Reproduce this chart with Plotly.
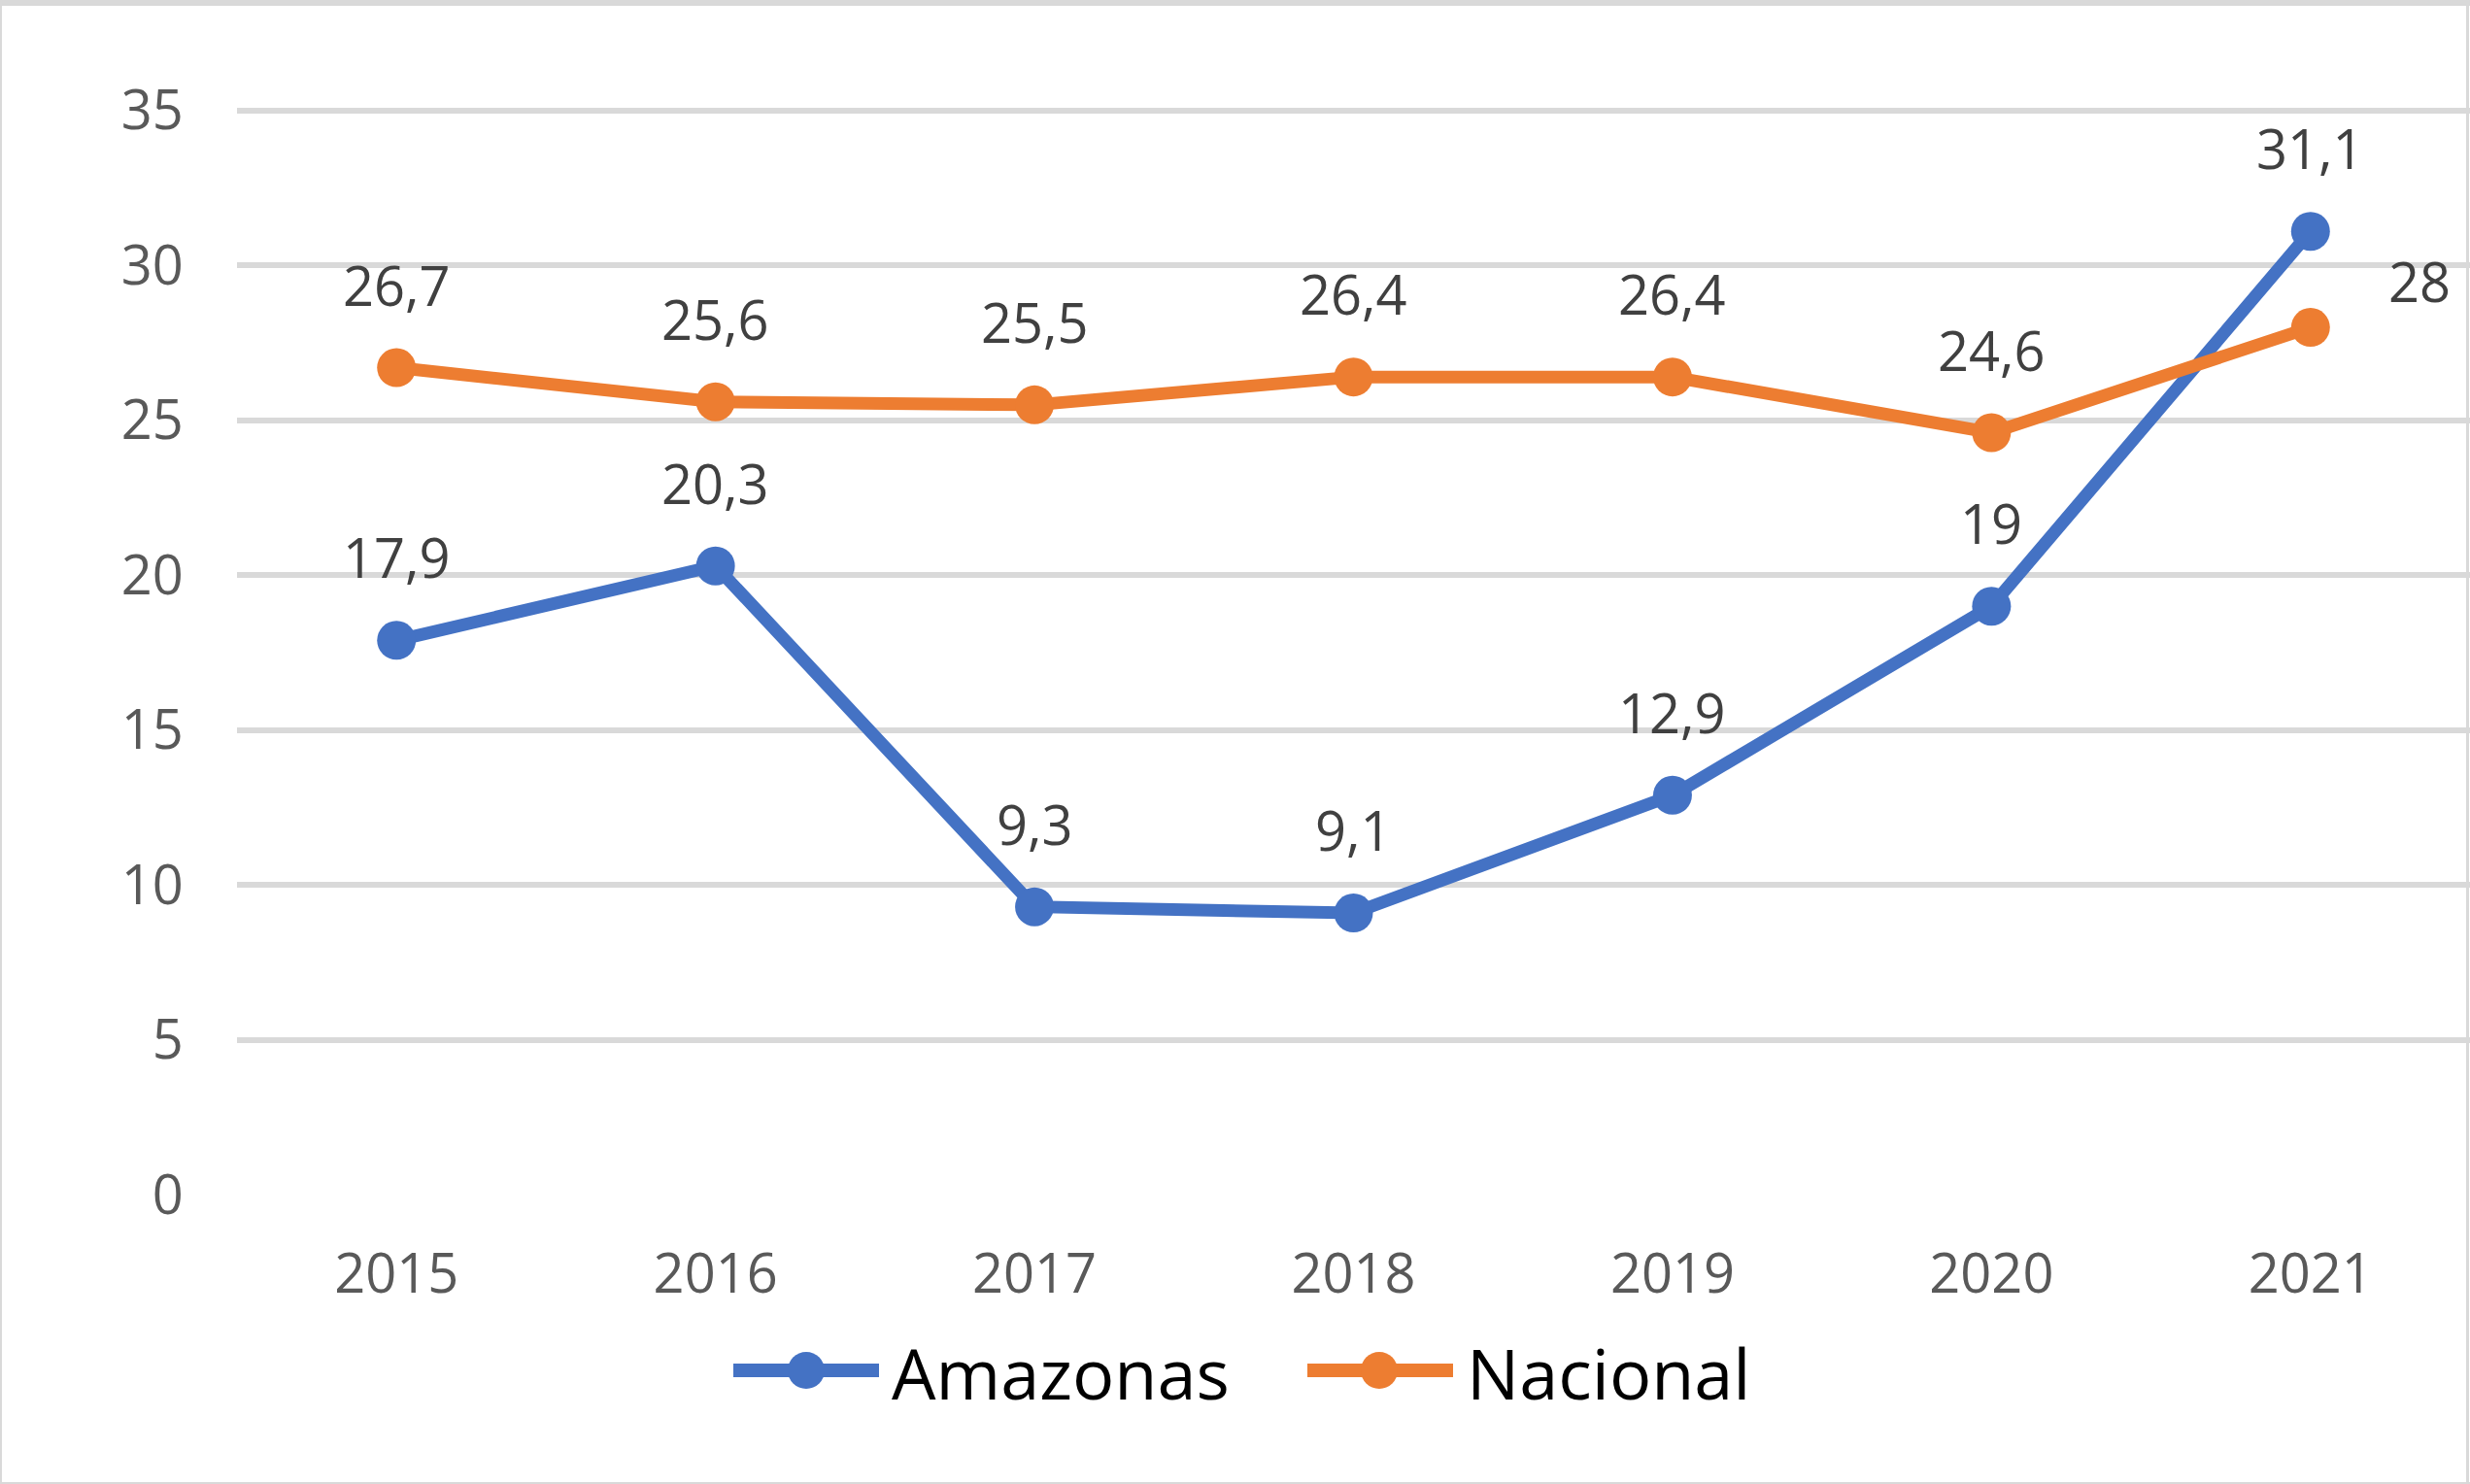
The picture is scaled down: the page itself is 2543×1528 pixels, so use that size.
import plotly.graph_objects as go

years = ["2015", "2016", "2017", "2018", "2019", "2020", "2021"]
amazonas = [17.9, 20.3, 9.3, 9.1, 12.9, 19.0, 31.1]
nacional = [26.7, 25.6, 25.5, 26.4, 26.4, 24.6, 28.0]
y_ticks = [0, 5, 10, 15, 20, 25, 30, 35]
series_names = ["Amazonas", "Nacional"]

BLUE = "#4472C4"
ORANGE = "#ED7D31"
FONT = "Open Sans"
GRID = "#D9D9D9"

W, H = 2543, 1528
L, R, T, B = 244, 0, 109, 297
PW, PH = W - L - R, H - T - B


def px_x(px):
    return (px - L) / PW


def px_y(py):
    return (H - B - py) / PH


def fmt(v):
    s = ("%.1f" % v).replace(".", ",")
    if s.endswith(",0"):
        s = s[:-2]
    return s


fig = go.Figure()
for name, vals, col in ((series_names[0], amazonas, BLUE), (series_names[1], nacional, ORANGE)):
    fig.add_trace(go.Scatter(
        x=years, y=vals, name=name, mode="lines+markers",
        line=dict(color=col, width=13), marker=dict(color=col, size=40),
        showlegend=False,
    ))

# data labels (category index used as x position)
for si, vals in enumerate((amazonas, nacional)):
    for i, v in enumerate(vals):
        xs, ys = 0, 86
        if si == 1 and i == len(years) - 1:
            xs, ys = 112, 48
        fig.add_annotation(
            x=i, y=v, xref="x", yref="y", text=fmt(v), showarrow=False,
            xshift=xs, yshift=ys, xanchor="center", yanchor="middle",
            font=dict(family=FONT, size=56, color="#404040"),
        )

# legend (drawn manually to match the long line symbols)
legend_items = [
    (series_names[0], BLUE, 755, 905, 830, 916),
    (series_names[1], ORANGE, 1346, 1496, 1420, 1508),
]
LEG_Y = 1411
for name, col, lx0, lx1, mx, tx in legend_items:
    fig.add_shape(type="line", xref="paper", yref="paper",
                  x0=px_x(lx0), x1=px_x(lx1), y0=px_y(LEG_Y), y1=px_y(LEG_Y),
                  line=dict(color=col, width=14))
    fig.add_shape(type="circle", xref="paper", yref="paper",
                  x0=px_x(mx - 19), x1=px_x(mx + 19), y0=px_y(LEG_Y + 19), y1=px_y(LEG_Y - 19),
                  fillcolor=col, line=dict(width=0))
    fig.add_annotation(x=px_x(tx), y=px_y(LEG_Y + 2), xref="paper", yref="paper",
                       text=name, showarrow=False, xanchor="left", yanchor="middle",
                       font=dict(family=FONT, size=72, color="#000000"))

# outer light grey border
for x0, x1, y0, y1 in ((0, W, 0, 6), (0, 2, 0, H), (2539, 2542, 0, H), (0, W, 1526, H)):
    fig.add_shape(type="rect", xref="paper", yref="paper",
                  x0=px_x(x0), x1=px_x(x1), y0=px_y(y1), y1=px_y(y0),
                  fillcolor=GRID, line=dict(width=0), layer="above")

fig.update_layout(
    width=W, height=H,
    margin=dict(l=L, r=R, t=T, b=B, pad=0),
    paper_bgcolor="white", plot_bgcolor="white",
    showlegend=False,
    xaxis=dict(
        type="category", range=[-0.5, 6.5], showgrid=False, zeroline=False,
        showline=False, ticks="outside", ticklen=32, tickcolor="rgba(0,0,0,0)",
        tickfont=dict(family=FONT, size=56, color="#595959"),
    ),
    yaxis=dict(
        range=[-0.02, 35.15], tickvals=y_ticks, showgrid=True, gridcolor=GRID, gridwidth=6,
        zeroline=False, showline=False, ticks="outside", ticklen=43, tickcolor="rgba(0,0,0,0)",
        tickfont=dict(family=FONT, size=56, color="#595959"),
    ),
)

fig.write_html(
    "out.html",
    config={"displayModeBar": False},
    post_script="document.body.style.margin='0';document.body.style.overflow='hidden';",
)
